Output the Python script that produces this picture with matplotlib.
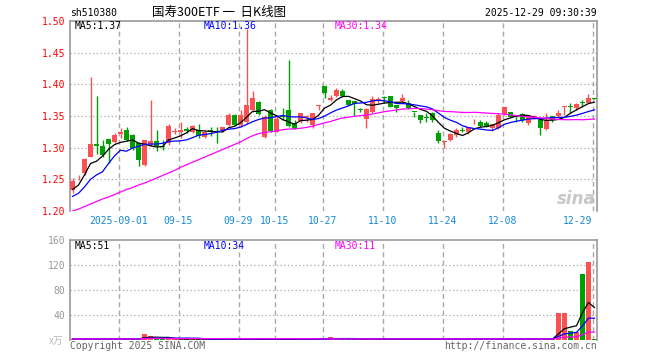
import matplotlib
matplotlib.use('Agg')
import matplotlib.pyplot as plt
import numpy as np
import pandas as pd

# trading days shown (2025)
dates = ['08-20', '08-21', '08-22', '08-25', '08-26', '08-27', '08-28', '08-29',
         '09-01', '09-02', '09-03', '09-04', '09-05', '09-08', '09-09', '09-10',
         '09-11', '09-12', '09-15', '09-16', '09-17', '09-18', '09-19', '09-22',
         '09-23', '09-24', '09-25', '09-26', '09-29', '09-30', '10-09', '10-10',
         '10-13', '10-14', '10-15', '10-16', '10-17', '10-20', '10-21', '10-22',
         '10-23', '10-24', '10-27', '10-28', '10-29', '10-30', '10-31', '11-03',
         '11-04', '11-05', '11-06', '11-07', '11-10', '11-11', '11-12', '11-13',
         '11-14', '11-17', '11-18', '11-19', '11-20', '11-21', '11-24', '11-25',
         '11-26', '11-27', '11-28', '12-01', '12-02', '12-03', '12-04', '12-05',
         '12-08', '12-09', '12-10', '12-11', '12-12', '12-15', '12-16', '12-17',
         '12-18', '12-19', '12-22', '12-23', '12-24', '12-25', '12-26', '12-29']

opens = [1.233, 1.253, 1.260, 1.286, 1.306, 1.303, 1.314, 1.309, 1.321, 1.328,
         1.320, 1.307, 1.272, 1.306, 1.311, 1.303, 1.307, 1.324, 1.324, 1.330,
         1.324, 1.328, 1.317, 1.328, 1.327, 1.328, 1.336, 1.352, 1.336, 1.341,
         1.359, 1.372, 1.317, 1.359, 1.325, 1.349, 1.360, 1.339, 1.342, 1.348,
         1.336, 1.366, 1.397, 1.376, 1.382, 1.389, 1.376, 1.373, 1.361, 1.345,
         1.357, 1.375, 1.380, 1.382, 1.368, 1.373, 1.370, 1.357, 1.352, 1.348,
         1.354, 1.323, 1.309, 1.312, 1.320, 1.328, 1.324, 1.340, 1.341, 1.339,
         1.331, 1.331, 1.353, 1.356, 1.350, 1.353, 1.339, 1.348, 1.343, 1.329,
         1.350, 1.350, 1.365, 1.366, 1.362, 1.372, 1.371, 1.378]
closes = [1.248, 1.254, 1.282, 1.306, 1.303, 1.289, 1.306, 1.320, 1.324, 1.312,
          1.299, 1.281, 1.312, 1.311, 1.303, 1.301, 1.334, 1.327, 1.328, 1.327,
          1.334, 1.319, 1.324, 1.324, 1.325, 1.332, 1.352, 1.336, 1.352, 1.367,
          1.379, 1.353, 1.349, 1.326, 1.346, 1.348, 1.335, 1.330, 1.354, 1.350,
          1.354, 1.367, 1.387, 1.378, 1.391, 1.381, 1.368, 1.369, 1.360, 1.361,
          1.377, 1.376, 1.378, 1.365, 1.362, 1.379, 1.362, 1.356, 1.343, 1.347,
          1.343, 1.310, 1.310, 1.321, 1.328, 1.327, 1.332, 1.341, 1.334, 1.333,
          1.337, 1.352, 1.364, 1.349, 1.349, 1.343, 1.349, 1.350, 1.331, 1.343,
          1.344, 1.355, 1.366, 1.364, 1.369, 1.370, 1.379, 1.377]
highs = [1.252, 1.257, 1.283, 1.412, 1.382, 1.312, 1.314, 1.323, 1.331, 1.332,
         1.322, 1.308, 1.312, 1.375, 1.328, 1.312, 1.337, 1.331, 1.340, 1.332,
         1.336, 1.337, 1.326, 1.333, 1.333, 1.333, 1.354, 1.353, 1.359, 1.488,
         1.389, 1.374, 1.352, 1.361, 1.352, 1.362, 1.438, 1.344, 1.354, 1.351,
         1.355, 1.368, 1.398, 1.383, 1.395, 1.393, 1.376, 1.373, 1.363, 1.362,
         1.381, 1.380, 1.381, 1.382, 1.368, 1.384, 1.375, 1.357, 1.352, 1.354,
         1.356, 1.328, 1.310, 1.323, 1.331, 1.333, 1.333, 1.345, 1.343, 1.342,
         1.338, 1.354, 1.365, 1.357, 1.352, 1.355, 1.351, 1.352, 1.343, 1.354,
         1.350, 1.359, 1.366, 1.370, 1.370, 1.375, 1.385, 1.378]
lows = [1.229, 1.249, 1.257, 1.285, 1.290, 1.286, 1.276, 1.307, 1.315, 1.311,
        1.296, 1.271, 1.271, 1.302, 1.294, 1.296, 1.304, 1.321, 1.316, 1.323,
        1.323, 1.316, 1.316, 1.319, 1.308, 1.325, 1.334, 1.335, 1.333, 1.338,
        1.357, 1.352, 1.316, 1.325, 1.324, 1.344, 1.333, 1.329, 1.339, 1.340,
        1.331, 1.359, 1.378, 1.373, 1.380, 1.380, 1.367, 1.350, 1.356, 1.331,
        1.354, 1.370, 1.371, 1.364, 1.357, 1.370, 1.361, 1.348, 1.339, 1.341,
        1.341, 1.308, 1.300, 1.311, 1.317, 1.324, 1.322, 1.337, 1.333, 1.332,
        1.327, 1.329, 1.352, 1.348, 1.341, 1.341, 1.336, 1.346, 1.320, 1.328,
        1.341, 1.348, 1.352, 1.355, 1.359, 1.365, 1.370, 1.377]

# volume in 万手
volumes = [1.6, 1.6, 1.6, 1.6, 1.6, 1.6, 1.6, 1.6, 1.6, 1.6,
           3.2, 1.6, 9.6, 6.4, 1.6, 1.6, 1.6, 1.6, 1.6, 1.6,
           1.6, 1.6, 1.6, 1.6, 1.6, 1.6, 1.6, 1.6, 1.6, 1.6,
           1.6, 1.6, 1.6, 1.6, 1.6, 1.6, 1.6, 1.6, 1.6, 1.6,
           1.6, 1.6, 1.6, 5.0, 1.6, 1.6, 1.6, 1.6, 1.6, 1.6,
           1.6, 1.6, 1.6, 1.6, 1.6, 1.6, 1.6, 1.6, 1.6, 1.6,
           1.6, 1.6, 1.6, 1.6, 1.6, 1.6, 1.6, 1.6, 1.6, 1.6,
           1.6, 1.6, 1.6, 1.6, 1.6, 1.6, 1.6, 1.6, 1.6, 1.6,
           1.6, 42.7, 42.7, 14.4, 12.3, 105.6, 125.3, 1.6]

# moving-average values before enough days are in view
ma5_head = [1.234, 1.241, 1.257, 1.275]
ma10_head = [1.223, 1.228, 1.238, 1.250, 1.257, 1.262, 1.275, 1.287, 1.296]
ma30_head = [1.200, 1.203, 1.207, 1.211, 1.215, 1.219, 1.222, 1.226, 1.230, 1.234,
             1.237, 1.241, 1.244, 1.248, 1.252, 1.256, 1.260, 1.264, 1.269, 1.273,
             1.277, 1.281, 1.285, 1.289, 1.293, 1.297, 1.301, 1.305, 1.309]

tick_keys = ['09-01', '09-15', '09-29', '10-15', '10-27', '11-10', '11-24', '12-08', '12-29']
tick_labels = ['2025-09-01', '09-15', '09-29', '10-15', '10-27', '11-10', '11-24', '12-08', '12-29']

W, H = 660, 360
RED = '#fa5252'
GREEN = '#00a000'
GRID = '#aaaaaa'
MONO = 'DejaVu Sans Mono'
CJK = ['Noto Sans CJK SC', 'DejaVu Sans']

o = np.array(opens)
c = np.array(closes)
hi = np.array(highs)
lo = np.array(lows)
v = np.array(volumes)
x = np.arange(len(dates))
up = c >= o
cols = np.where(up, RED, GREEN)


def with_head(values, n, head):
    ma = pd.Series(values).rolling(n).mean().to_numpy()
    ma[:len(head)] = head
    return ma


ma5 = with_head(c, 5, ma5_head)
ma10 = with_head(c, 10, ma10_head)
ma30 = with_head(c, 30, ma30_head)
vma5 = pd.Series(v).rolling(5, min_periods=1).mean()
vma10 = pd.Series(v).rolling(10, min_periods=1).mean()
vma30 = pd.Series(v).rolling(30, min_periods=1).mean()

fig = plt.figure(figsize=(W / 100, H / 100), dpi=100)
fig.patch.set_facecolor('white')

ax = fig.add_axes([70 / W, 1 - 211 / H, 527 / W, 190 / H])
axv = fig.add_axes([70 / W, 1 - 340 / H, 527 / W, 100 / H])

tick_pos = [dates.index(k) - 0.33 for k in tick_keys]

for a in (ax, axv):
    a.set_xlim(-0.42, len(dates) - 0.58)
    for s in ('top', 'left', 'right'):
        a.spines[s].set_color('#999999')
        a.spines[s].set_linewidth(1.2)
    a.spines['bottom'].set_visible(False)
    a.set_xticks([])
    for p in tick_pos:
        a.axvline(p, color=GRID, lw=1.0, dashes=(3.5, 2.5), zorder=0)
    a.tick_params(axis='y', length=0, pad=3.5)

# price panel
ax.set_ylim(1.20, 1.50)
ax.set_yticks([1.20, 1.25, 1.30, 1.35, 1.40, 1.45, 1.50])
ax.set_yticklabels(['%.2f' % t for t in ax.get_yticks()], family=MONO,
                   fontsize=7, color='red')
for t in [1.25, 1.30, 1.35, 1.40, 1.45]:
    ax.axhline(t, color=GRID, lw=0.9, dashes=(1, 2), zorder=0)

ax.vlines(x, lo, hi, colors=cols, lw=1.0, zorder=2)
body = np.maximum(np.abs(c - o), 0.0013)
ax.bar(x, body, bottom=np.minimum(o, c), width=0.78, color=cols,
       linewidth=0, zorder=3)

ax.plot(x, ma5, color='black', lw=0.9, zorder=4)
ax.plot(x, ma10, color='#0000ff', lw=0.9, zorder=4)
ax.plot(x, ma30, color='#ff00ff', lw=0.9, zorder=4)

for p, lab in zip(tick_pos, tick_labels):
    ha = 'right' if lab == tick_labels[-1] else 'center'
    ax.text(p, -0.055, lab, transform=ax.get_xaxis_transform(), ha=ha,
            va='center', family=MONO, fontsize=7, color='#1589d6')

# volume panel
axv.set_ylim(0, 160)
axv.set_yticks([0, 40, 80, 120, 160])
axv.set_yticklabels(['', '40', '80', '120', '160'], family=MONO,
                    fontsize=7, color='#999999')
for t in [40, 80, 120]:
    axv.axhline(t, color=GRID, lw=0.9, dashes=(1, 2), zorder=0)
axv.bar(x, v, width=0.78, color=cols, linewidth=0, zorder=2)
axv.plot(x, vma5, color='black', lw=0.9, zorder=3)
axv.plot(x, vma10, color='#0000ff', lw=0.9, zorder=3)
axv.plot(x, vma30, color='#ff00ff', lw=0.9, zorder=3)


def px_text(xp, yp, s, **kw):
    fig.text(xp / W, 1 - yp / H, s, **kw)


# header texts
px_text(70, 13.5, 'sh510380', family=MONO, fontsize=7, va='center')
px_text(219, 12.5, '国寿300ETF 一  日K线图', family=CJK, fontsize=9,
        ha='center', va='center')
px_text(597, 13, '2025-12-29 09:30:39', family=MONO, fontsize=7,
        ha='right', va='center')

# moving-average legends
px_text(75, 26, 'MA5:1.37', family=MONO, fontsize=7, va='center', color='black')
px_text(204, 26, 'MA10:1.36', family=MONO, fontsize=7, va='center', color='#0000ff')
px_text(335, 26, 'MA30:1.34', family=MONO, fontsize=7, va='center', color='#ff00ff')
px_text(75, 246, 'MA5:51', family=MONO, fontsize=7, va='center', color='black')
px_text(204, 246, 'MA10:34', family=MONO, fontsize=7, va='center', color='#0000ff')
px_text(335, 246, 'MA30:11', family=MONO, fontsize=7, va='center', color='#ff00ff')

px_text(63, 341, 'x万', family=CJK, fontsize=7, ha='right', va='center',
        color='#bbbbbb')

# footer
px_text(70, 346, 'Copyright 2025 SINA.COM', family=MONO, fontsize=7,
        va='center', color='#666666')
px_text(597, 346, 'http://finance.sina.com.cn', family=MONO, fontsize=7,
        ha='right', va='center', color='#666666')

# watermark
px_text(596, 199, 'sina', fontsize=12, fontweight='bold', style='italic',
        ha='right', va='center', color='#c8c8c8')

fig.savefig('out.png', dpi=100)
